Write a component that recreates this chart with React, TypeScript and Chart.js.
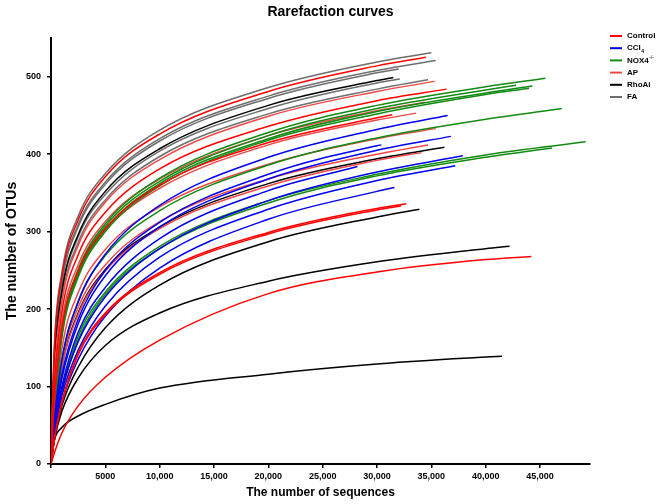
import React, { useEffect, useRef } from 'react';
import { Chart, registerables } from 'chart.js';

Chart.register(...registerables);

const FONT = "Arial, 'Liberation Sans', Helvetica, sans-serif";

// sequence depths at which each curve was read (values arrays follow this grid until the curve's end)
const seqGrid = [0, 300, 1000, 2500, 5000, 10000, 20000, 30000, 40000];

const xTicks = [5000, 10000, 15000, 20000, 25000, 30000, 35000, 40000, 45000];
const yTicks = [0, 100, 200, 300, 400, 500];

const groupLabels = ['Control', 'CCl4', 'NOX4-/-', 'AP', 'RhoAi', 'FA'];
const groupColors = ['#ff0000', '#0000ee', '#138a13', '#ef4848', '#000000', '#6e6e6e'];

// Control
const controlValues = [
  [0, 145, 242, 315, 371, 426, 481, 514],
  [0, 100, 196, 270, 325, 381, 436, 469],
  [0, 79, 175, 249, 304, 360, 415, 447],
  [0, 32, 80, 143, 195, 247, 299, 330],
  [0, 31, 78, 141, 193, 245, 297, 328],
  [0, 14, 40, 75, 112, 160, 220, 248, 264],
];
const controlEnds = [[34500, 525], [36400, 484], [31400, 451], [32700, 336], [32200, 333], [44200, 268]];

// CCl4
const ccl4Values = [
  [0, 55, 135, 209, 271, 334, 396, 432],
  [0, 48, 110, 181, 243, 306, 368, 405],
  [0, 50, 115, 187, 250, 312, 374, 411],
  [0, 42, 95, 158, 216, 278, 340, 377],
  [0, 40, 88, 147, 204, 267, 329, 366],
  [0, 45, 100, 170, 228, 291, 353],
  [0, 36, 80, 135, 191, 253, 316, 352],
];
const ccl4Ends = [[36500, 450], [36800, 423], [30400, 412], [37900, 398], [37200, 385], [28200, 384], [31600, 357]];

// NOX4-/-
const noxValues = [
  [0, 75, 174, 251, 310, 369, 428, 463, 487],
  [0, 70, 170, 248, 307, 365, 424, 459, 483],
  [0, 66, 166, 244, 303, 362, 420, 455, 479],
  [0, 63, 163, 241, 300, 359, 418, 452, 477],
  [0, 48, 132, 210, 269, 327, 386, 421, 445],
  [0, 40, 95, 165, 222, 281, 340, 374, 399],
  [0, 40, 92, 160, 219, 278, 337, 372, 396],
];
const noxEnds = [[45500, 498], [42800, 489], [44300, 488], [44000, 485], [47000, 459], [49200, 416], [46100, 408]];

// AP
const apValues = [
  [0, 113, 209, 282, 338, 393, 449, 481],
  [0, 88, 184, 257, 313, 368, 424, 456],
  [0, 76, 172, 245, 301, 356, 412, 444],
  [0, 55, 148, 221, 277, 332, 387, 420],
  [0, 48, 130, 202, 257, 313, 368, 400],
  [0, 45, 122, 193, 249, 304, 359, 392],
];
const apEnds = [[35300, 494], [34400, 467], [33600, 453], [35400, 433], [34700, 412], [34100, 402]];

// RhoAi
const rhoaiValues = [
  [0, 127, 223, 296, 352, 407, 463, 495],
  [0, 48, 125, 195, 251, 306, 362, 394],
  [0, 32, 75, 125, 176, 231, 287, 319],
  [0, 30, 68, 111, 153, 195, 236, 261, 278],
  [0, 30, 47, 62, 77, 98, 116, 129, 138],
];
const rhoaiEnds = [[31500, 499], [36200, 409], [33900, 329], [42200, 281], [41500, 139]];

// FA
const faValues = [
  [0, 150, 247, 320, 375, 431, 486, 519],
  [0, 139, 236, 309, 364, 420, 475, 508],
  [0, 136, 233, 306, 361, 417, 472, 505],
  [0, 123, 220, 293, 348, 404, 459, 492],
  [0, 116, 212, 286, 341, 397, 452, 484],
];
const faEnds = [[35000, 531], [35400, 521], [32000, 510], [32100, 497], [34700, 496]];

const groupValues = [controlValues, ccl4Values, noxValues, apValues, rhoaiValues, faValues];
const groupEnds = [controlEnds, ccl4Ends, noxEnds, apEnds, rhoaiEnds, faEnds];

function buildCurve(values: number[], end: number[]) {
  const pts = values.map((v, i) => ({ x: seqGrid[i], y: v }));
  pts.push({ x: end[0], y: end[1] });
  return pts;
}

const textPlugin = {
  id: 'textPlugin',
  afterDraw(chart: any) {
    const ctx = chart.ctx as CanvasRenderingContext2D;
    const area = chart.chartArea;
    ctx.save();
    ctx.fillStyle = '#000';
    ctx.textAlign = 'center';
    ctx.textBaseline = 'middle';
    ctx.font = `bold 14px ${FONT}`;
    ctx.fillText('Rarefaction curves', chart.width / 2, 12);
    ctx.font = `bold 12px ${FONT}`;
    ctx.fillText('The number of sequences', (area.left + area.right) / 2, 493);
    ctx.save();
    ctx.translate(12, (area.top + area.bottom) / 2);
    ctx.rotate(-Math.PI / 2);
    ctx.font = `bold 14px ${FONT}`;
    ctx.fillText('The number of OTUs', 0, 0);
    ctx.restore();

    // legend
    const lx = 610;
    const ly0 = 36;
    const step = 12.2;
    groupLabels.forEach((label, i) => {
      const y = ly0 + i * step;
      ctx.strokeStyle = groupColors[i];
      ctx.lineWidth = 2;
      ctx.beginPath();
      ctx.moveTo(lx, y);
      ctx.lineTo(lx + 12, y);
      ctx.stroke();
      ctx.fillStyle = '#000';
      ctx.textAlign = 'left';
      ctx.textBaseline = 'middle';
      ctx.font = `bold 8px ${FONT}`;
      const tx = lx + 17;
      if (label === 'CCl4') {
        ctx.fillText('CCl', tx, y);
        const w = ctx.measureText('CCl').width;
        ctx.font = `bold 5px ${FONT}`;
        ctx.fillText('4', tx + w + 0.5, y + 3);
      } else if (label === 'NOX4-/-') {
        ctx.fillText('NOX4', tx, y);
        const w = ctx.measureText('NOX4').width;
        ctx.font = `5px ${FONT}`;
        ctx.fillText('-/-', tx + w + 0.5, y - 3);
      } else {
        ctx.fillText(label, tx, y);
      }
    });
    ctx.restore();
  },
};

export default function App() {
  const canvasRef = useRef<HTMLCanvasElement | null>(null);

  useEffect(() => {
    document.body.style.margin = '0';
    const canvas = canvasRef.current;
    if (!canvas) return;

    const datasets: any[] = [];
    groupValues.forEach((curves, g) => {
      curves.forEach((vals, c) => {
        datasets.push({
          label: groupLabels[g],
          data: buildCurve(vals, groupEnds[g][c]),
          borderColor: groupColors[g],
          backgroundColor: groupColors[g],
          borderWidth: 1.5,
          pointRadius: 0,
          pointHoverRadius: 0,
          fill: false,
          cubicInterpolationMode: 'monotone',
        });
      });
    });

    const tickFont = { family: FONT, size: 9, weight: 'bold' as const };

    const chart = new Chart(canvas, {
      type: 'line',
      data: { datasets },
      options: {
        animation: false,
        responsive: false,
        devicePixelRatio: 1,
        layout: { padding: { left: 0, top: 38, right: 71, bottom: 0 } },
        plugins: {
          legend: { display: false },
          title: { display: false },
          tooltip: { enabled: false },
        },
        scales: {
          x: {
            type: 'linear',
            min: 0,
            max: 49600,
            afterFit: (scale: any) => {
              scale.height = 40;
            },
            afterBuildTicks: (scale: any) => {
              scale.ticks = [0, ...xTicks].map((v) => ({ value: v }));
            },
            ticks: {
              font: tickFont,
              color: '#000',
              padding: 3,
              maxRotation: 0,
              autoSkip: false,
              callback: (v: any) => {
                const n = Number(v);
                if (n === 0) return '';
                if (n < 10000) return String(n);
                return n.toLocaleString('en-US');
              },
            },
            grid: {
              drawOnChartArea: false,
              drawTicks: true,
              tickLength: 4,
              color: '#000',
              lineWidth: 1.5,
            },
            border: { display: true, color: '#000', width: 2 },
          },
          y: {
            type: 'linear',
            min: 0,
            max: 550,
            afterFit: (scale: any) => {
              scale.width = 51;
            },
            afterBuildTicks: (scale: any) => {
              scale.ticks = yTicks.map((v) => ({ value: v }));
            },
            ticks: {
              font: tickFont,
              color: '#000',
              padding: 6,
              autoSkip: false,
            },
            grid: {
              drawOnChartArea: false,
              drawTicks: true,
              tickLength: 4,
              color: '#000',
              lineWidth: 1.5,
            },
            border: { display: true, color: '#000', width: 2 },
          },
        },
      },
      plugins: [textPlugin],
    });

    return () => {
      chart.destroy();
    };
  }, []);

  return (
    <div style={{ position: 'absolute', left: 0, top: 0, width: 661, height: 504, background: '#fff' }}>
      <canvas ref={canvasRef} width={661} height={504} style={{ width: 661, height: 504, display: 'block' }} />
    </div>
  );
}
